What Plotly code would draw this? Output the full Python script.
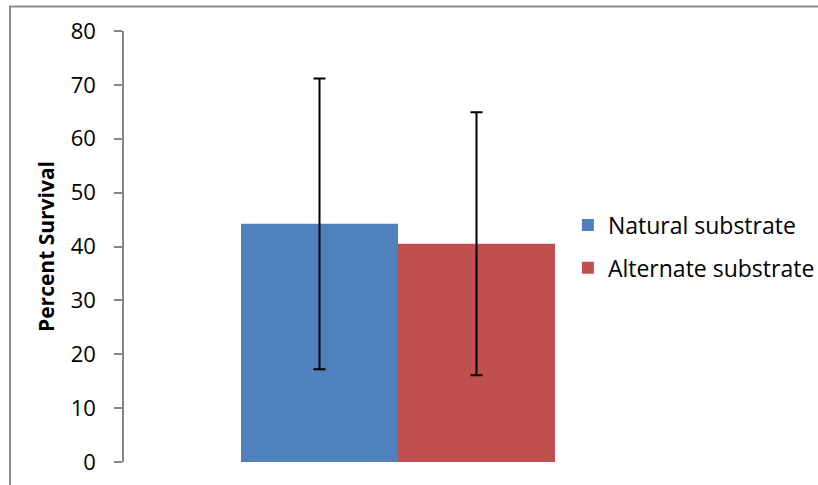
import plotly.graph_objects as go

# Survival by substrate type (mean ± error)
categories = [""]
series_names = ["Natural substrate", "Alternate substrate"]
survival_means = [44.2, 40.5]
survival_errors = [27.0, 24.4]
series_colors = ["#4F81BD", "#C0504D"]
y_ticks = [0, 10, 20, 30, 40, 50, 60, 70, 80]

FONT = "'Open Sans', sans-serif"

fig = go.Figure()
for i, (name, mean, err, color) in enumerate(zip(series_names, survival_means, survival_errors, series_colors)):
    fig.add_trace(go.Bar(
        x=categories,
        y=[mean],
        name=name,
        legendgroup=f"g{i}",
        marker=dict(color=color, line=dict(width=0)),
        error_y=dict(type="data", array=[err], visible=True,
                     color="black", thickness=2, width=6),
    ))

fig.update_layout(
    width=818, height=485,
    margin=dict(l=124, r=146, t=31, b=23, autoexpand=False),
    paper_bgcolor="white", plot_bgcolor="white",
    barmode="group", bargap=0.427, bargroupgap=0,
    font=dict(family=FONT, color="black"),
    showlegend=True,
    legend=dict(x=0.81, xanchor="left", y=0.5, yanchor="middle",
                font=dict(size=23, family=FONT), bgcolor="rgba(0,0,0,0)",
                itemwidth=30, tracegroupgap=10),
    xaxis=dict(showline=False, showticklabels=False, ticks="",
               showgrid=False, zeroline=False, automargin=False),
    yaxis=dict(range=[0, 80], tickvals=y_ticks, ticks="outside", ticklen=8,
               tickcolor="#868686", tickwidth=1.5, showline=True, linecolor="#868686",
               linewidth=1.5, showgrid=False, zeroline=False, automargin=False,
               tickfont=dict(size=22, family=FONT), ticklabelstandoff=14,
               title=dict(text="<b>Percent Survival</b>", font=dict(size=21, family=FONT),
                          standoff=10)),
    shapes=[dict(type="rect", xref="paper", yref="paper",
                 x0=-0.208, x1=1.5, y0=-0.2, y1=1.0568,
                 line=dict(color="#8C8C8C", width=2), fillcolor="rgba(0,0,0,0)",
                 layer="below")],
)

fig.write_html("out.html")
